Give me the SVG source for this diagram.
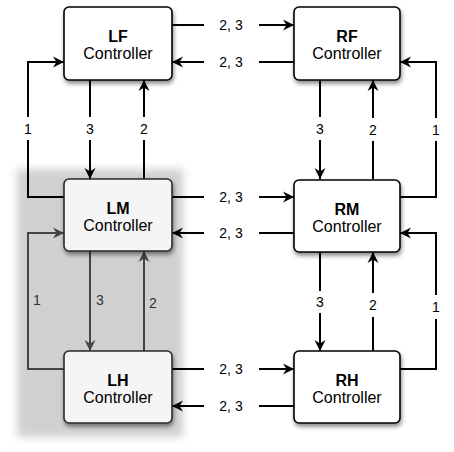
<svg xmlns="http://www.w3.org/2000/svg" width="454" height="452" viewBox="0 0 454 452">
<style>
.ln{fill:none;stroke:#000;stroke-width:2}
.lg{fill:none;stroke:#444;stroke-width:2}
.box{fill:#fff;stroke:#000;stroke-width:1.6}
.boxg{fill:#f5f5f5;stroke:#2a2a2a;stroke-width:1.6}
.t{font-family:"Liberation Sans",Arial,sans-serif;font-size:16px;text-anchor:middle;fill:#000}
.tb{font-weight:bold}
.lb{font-family:"Liberation Sans",Arial,sans-serif;font-size:14px;text-anchor:middle;fill:#000}
.lbg{fill:#333}
</style>
<defs>
<marker id="ah" markerUnits="userSpaceOnUse" markerWidth="14" markerHeight="14" viewBox="-12 -7 14 14" refX="0" refY="0" orient="auto">
<path d="M0,0 L-11,-5.5 L-7.5,0 L-11,5.5 Z" fill="#000"/>
</marker>
<marker id="ahg" markerUnits="userSpaceOnUse" markerWidth="14" markerHeight="14" viewBox="-12 -7 14 14" refX="0" refY="0" orient="auto">
<path d="M0,0 L-11,-5.5 L-7.5,0 L-11,5.5 Z" fill="#444"/>
</marker>
<filter id="blur" x="-20%" y="-20%" width="140%" height="140%"><feGaussianBlur stdDeviation="4"/></filter>
<filter id="sh" x="-20%" y="-20%" width="140%" height="150%"><feDropShadow dx="1" dy="3" stdDeviation="2" flood-color="#000" flood-opacity="0.45"/></filter>
</defs>
<rect width="454" height="452" fill="#fff"/>
<rect id="group-region" x="17" y="169" width="166" height="268" fill="#d0d0d0" filter="url(#blur)"/>
<g id="connectors">
<!-- LF <-> RF -->
<path class="ln" d="M172,25 H204"/><path class="ln" d="M259,25 H294" marker-end="url(#ah)"/>
<path class="ln" d="M294,62 H259"/><path class="ln" d="M204,62 H172" marker-end="url(#ah)"/>
<!-- LM <-> RM -->
<path class="ln" d="M172,197 H204"/><path class="ln" d="M259,197 H294" marker-end="url(#ah)"/>
<path class="ln" d="M294,233 H259"/><path class="ln" d="M204,233 H172" marker-end="url(#ah)"/>
<!-- LH <-> RH -->
<path class="ln" d="M172,369 H204"/><path class="ln" d="M259,369 H294" marker-end="url(#ah)"/>
<path class="ln" d="M294,406 H259"/><path class="ln" d="M204,406 H172" marker-end="url(#ah)"/>
<!-- LF <-> LM -->
<path class="ln" d="M90,80 V117"/><path class="ln" d="M90,140 V179" marker-end="url(#ah)"/>
<path class="ln" d="M144,179 V140"/><path class="ln" d="M144,117 V80" marker-end="url(#ah)"/>
<path class="ln" d="M64,197 H28 V140"/><path class="ln" d="M28,117 V62 H64" marker-end="url(#ah)"/>
<!-- LM <-> LH -->
<path class="lg" d="M90,251 V351" marker-end="url(#ahg)"/>
<path class="lg" d="M144,351 V251" marker-end="url(#ahg)"/>
<path class="lg" d="M64,369 H28 V233 H64" marker-end="url(#ahg)"/>
<!-- RF <-> RM -->
<path class="ln" d="M320,80 V117"/><path class="ln" d="M320,140 V179" marker-end="url(#ah)"/>
<path class="ln" d="M373,179 V141"/><path class="ln" d="M373,118 V80" marker-end="url(#ah)"/>
<path class="ln" d="M400,197 H436 V141"/><path class="ln" d="M436,118 V62 H400" marker-end="url(#ah)"/>
<!-- RM <-> RH -->
<path class="ln" d="M320,252 V291"/><path class="ln" d="M320,313 V351" marker-end="url(#ah)"/>
<path class="ln" d="M373,351 V317"/><path class="ln" d="M373,293 V252" marker-end="url(#ah)"/>
<path class="ln" d="M400,369 H436 V319"/><path class="ln" d="M436,295 V233 H400" marker-end="url(#ah)"/>
<!-- labels -->
<text class="lb" x="231" y="30">2, 3</text>
<text class="lb" x="231" y="67">2, 3</text>
<text class="lb" x="231" y="202">2, 3</text>
<text class="lb" x="231" y="238">2, 3</text>
<text class="lb" x="231" y="374">2, 3</text>
<text class="lb" x="231" y="411">2, 3</text>
<text class="lb" x="28" y="134">1</text>
<text class="lb" x="90" y="134">3</text>
<text class="lb" x="144" y="134">2</text>
<text class="lb" x="320" y="134">3</text>
<text class="lb" x="373" y="135">2</text>
<text class="lb" x="436" y="135">1</text>
<text class="lb lbg" x="37" y="305">1</text>
<text class="lb lbg" x="100" y="305">3</text>
<text class="lb lbg" x="153" y="308">2</text>
<text class="lb" x="320" y="307">3</text>
<text class="lb" x="373" y="310">2</text>
<text class="lb" x="436" y="312">1</text>
</g>
<g id="LF" filter="url(#sh)"><rect class="box" x="64" y="7" width="108" height="73" rx="5"/></g>
<g id="LF-text"><text class="t tb" x="118" y="42">LF</text><text class="t" x="118" y="59">Controller</text></g>
<g id="RF" filter="url(#sh)"><rect class="box" x="294" y="7" width="106" height="73" rx="5"/></g>
<g id="RF-text"><text class="t tb" x="347" y="42">RF</text><text class="t" x="347" y="59">Controller</text></g>
<g id="LM" filter="url(#sh)"><rect class="boxg" x="64" y="179" width="108" height="72" rx="5"/></g>
<g id="LM-text"><text class="t tb" x="118" y="214" fill="#111">LM</text><text class="t" x="118" y="231" fill="#111">Controller</text></g>
<g id="RM" filter="url(#sh)"><rect class="box" x="294" y="180" width="106" height="72" rx="5"/></g>
<g id="RM-text"><text class="t tb" x="347" y="215">RM</text><text class="t" x="347" y="232">Controller</text></g>
<g id="LH" filter="url(#sh)"><rect class="boxg" x="64" y="351" width="108" height="72" rx="5"/></g>
<g id="LH-text"><text class="t tb" x="118" y="386" fill="#111">LH</text><text class="t" x="118" y="403" fill="#111">Controller</text></g>
<g id="RH" filter="url(#sh)"><rect class="box" x="294" y="351" width="106" height="72" rx="5"/></g>
<g id="RH-text"><text class="t tb" x="347" y="386">RH</text><text class="t" x="347" y="403">Controller</text></g>
</svg>
